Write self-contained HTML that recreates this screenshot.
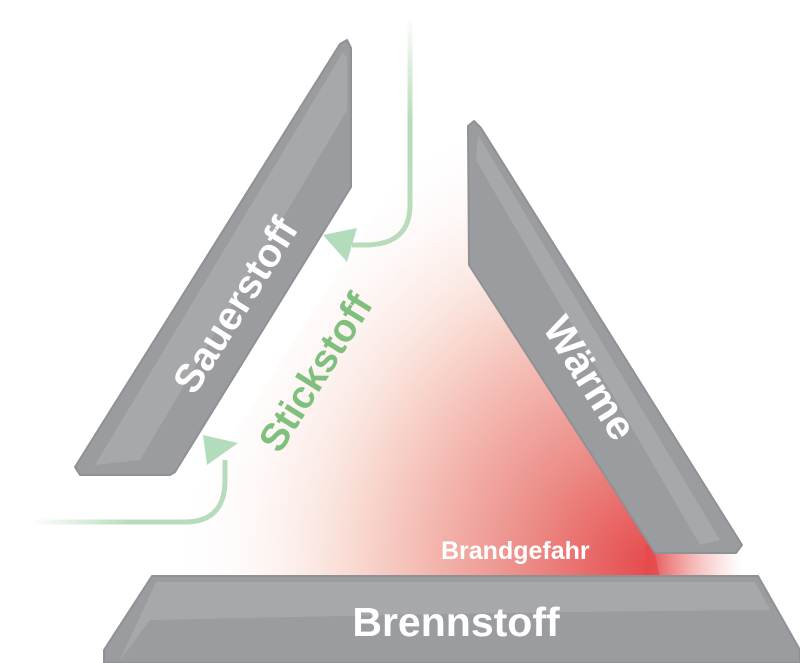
<!DOCTYPE html>
<html><head><meta charset="utf-8"><style>
html,body{margin:0;padding:0;background:#fff;}
svg{display:block}
text{font-family:"Liberation Sans",sans-serif;font-weight:bold;}
</style></head><body>
<svg width="800" height="663" viewBox="0 0 800 663" xmlns="http://www.w3.org/2000/svg">
<defs>
<radialGradient id="red" cx="650" cy="565" r="480" gradientUnits="userSpaceOnUse">
<stop offset="0" stop-color="#e54a4c"/>
<stop offset="0.25" stop-color="#ec8a85"/>
<stop offset="0.6" stop-color="#f8d6cd"/>
<stop offset="1" stop-color="#ffffff" stop-opacity="0"/>
</radialGradient>
<linearGradient id="g1" x1="0" y1="15" x2="0" y2="120" gradientUnits="userSpaceOnUse">
<stop offset="0" stop-color="#b8dcbb" stop-opacity="0"/><stop offset="1" stop-color="#b8dcbb"/>
</linearGradient>
<linearGradient id="g2" x1="30" y1="0" x2="130" y2="0" gradientUnits="userSpaceOnUse">
<stop offset="0" stop-color="#b8dcbb" stop-opacity="0"/><stop offset="1" stop-color="#b8dcbb"/>
</linearGradient>
<linearGradient id="fadeR" x1="650" y1="0" x2="742" y2="0" gradientUnits="userSpaceOnUse">
<stop offset="0" stop-color="#e54a4c" stop-opacity="0.95"/><stop offset="1" stop-color="#f2a09a" stop-opacity="0"/>
</linearGradient>
</defs>
<!-- red glow -->
<polygon points="440,115 470,125 470,265 655,553 660,578 140,578" fill="url(#red)"/>
<rect x="645" y="545" width="100" height="33" fill="url(#fadeR)"/>
<!-- green arrows -->
<path d="M410,15 V205 Q410,245 365,245 L352,245" fill="none" stroke="url(#g1)" stroke-width="5"/>
<polygon points="323,235 357,228 347,262" fill="#b3dcbc"/>
<path d="M30,522 H185 Q225,522 225,480 L225,460" fill="none" stroke="url(#g2)" stroke-width="5"/>
<polygon points="203,435 238,443 207,465" fill="#b3dcbc"/>
<!-- Sauerstoff bar -->
<polygon points="340,44 347,40 351,48 351,187 175,472 170,475 80,475 75,467" fill="#9a9c9f" stroke="#8f9194" stroke-width="2" stroke-linejoin="round"/>
<polygon points="343,52 347,58 347,110 140,460 95,465" fill="#ffffff" opacity="0.12"/>
<!-- Wärme bar -->
<polygon points="468,126 474,121 481,128 742,545 736,553 655,553 469,265" fill="#9a9c9f" stroke="#8f9194" stroke-width="2" stroke-linejoin="round"/>
<polygon points="478,135 720,540 700,545 476,160" fill="#ffffff" opacity="0.12"/>
<!-- Brennstoff bar -->
<polygon points="152,576 758,576 800,650 800,663 104,663 104,650" fill="#9a9c9f" stroke="#8f9194" stroke-width="2" stroke-linejoin="round"/>
<path d="M156,582 H755 L770,610 Q500,612 150,620 L120,660 Z" fill="#ffffff" opacity="0.13"/>
<!-- labels -->
<text x="235" y="319" font-size="40" fill="#fff" text-anchor="middle" transform="rotate(-58 235 305)">Sauerstoff</text>
<text x="315" y="386" font-size="39" fill="#80c07f" text-anchor="middle" transform="rotate(-58 315 372)">Stickstoff</text>
<text x="590" y="392" font-size="41" fill="#fff" text-anchor="middle" transform="rotate(58 590 378)">Wärme</text>
<text x="441" y="559" font-size="25" fill="#fff">Brandgefahr</text>
<text x="456" y="636" font-size="41" fill="#fff" text-anchor="middle">Brennstoff</text>
</svg>
</body></html>
